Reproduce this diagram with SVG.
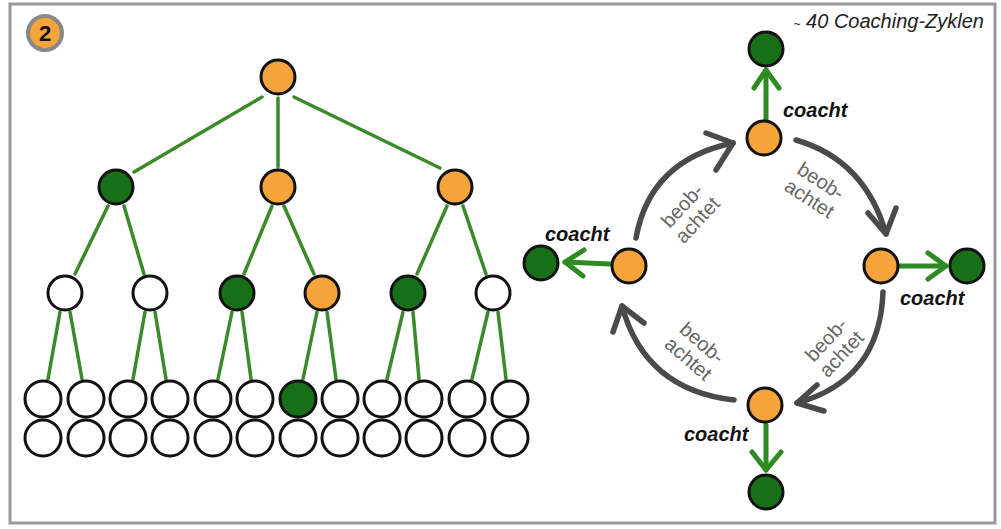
<svg xmlns="http://www.w3.org/2000/svg" width="1001" height="529" viewBox="0 0 1001 529">
<defs>
<style>
.o{fill:#F5A33B;stroke:#111;stroke-width:3}
.g{fill:#176F17;stroke:#111;stroke-width:3}
.w{fill:#fff;stroke:#111;stroke-width:3}
.tl{stroke:#3A8A2A;stroke-width:3.5;stroke-linecap:round;fill:none}
.ga{stroke:#4A4A4A;stroke-width:5.5;fill:none;stroke-linecap:round;stroke-linejoin:round}
.gr{stroke:#2E8A22;stroke-width:5;fill:none;stroke-linecap:round;stroke-linejoin:round}
.c{font-family:"Liberation Sans",Arial,sans-serif;font-size:20px;font-weight:bold;font-style:italic;fill:#111}
.b{font-family:"Liberation Sans",Arial,sans-serif;font-size:20px;fill:#666;text-anchor:middle}
</style>
</defs>
<rect x="0" y="0" width="1001" height="529" fill="#fff"/>
<rect x="10" y="4" width="985" height="519" fill="#fff" stroke="#999" stroke-width="3"/>
<g id="badge">
<circle cx="45" cy="33" r="17" fill="#F5A33B" stroke="#888" stroke-width="4"/>
<text x="45" y="41" font-family="Liberation Sans,Arial,sans-serif" font-size="22" font-weight="bold" text-anchor="middle" fill="#111">2</text>
</g>
<g id="connectors">
<line class="tl" x1="262" y1="97" x2="134" y2="172"/>
<line class="tl" x1="278" y1="98" x2="278" y2="167"/>
<line class="tl" x1="294" y1="97" x2="440" y2="168"/>
<line class="tl" x1="108" y1="206" x2="75" y2="274"/>
<line class="tl" x1="124" y1="206" x2="144" y2="274"/>
<line class="tl" x1="272" y1="206" x2="244" y2="274"/>
<line class="tl" x1="284" y1="206" x2="314" y2="274"/>
<line class="tl" x1="447" y1="206" x2="417" y2="274"/>
<line class="tl" x1="463" y1="206" x2="486" y2="274"/>
<line class="tl" x1="60" y1="312" x2="48" y2="379"/>
<line class="tl" x1="70" y1="312" x2="82" y2="379"/>
<line class="tl" x1="145" y1="312" x2="133" y2="379"/>
<line class="tl" x1="155" y1="312" x2="166" y2="379"/>
<line class="tl" x1="232" y1="312" x2="218" y2="379"/>
<line class="tl" x1="242" y1="312" x2="251" y2="379"/>
<line class="tl" x1="317" y1="312" x2="303" y2="379"/>
<line class="tl" x1="327" y1="312" x2="336" y2="379"/>
<line class="tl" x1="403" y1="312" x2="387" y2="379"/>
<line class="tl" x1="413" y1="312" x2="419" y2="379"/>
<line class="tl" x1="488" y1="312" x2="472" y2="379"/>
<line class="tl" x1="498" y1="312" x2="506" y2="379"/>
<path class="ga" d="M636,238 Q650,160 733,143"/>
<path class="ga" d="M706,133 L733,143 L716,170"/>
<path class="ga" d="M796,140 Q865,160 886,234"/>
<path class="ga" d="M868,213 L886,234 L896,208"/>
<path class="ga" d="M883,292 Q880,380 797,403"/>
<path class="ga" d="M817,385 L797,403 L824,411"/>
<path class="ga" d="M734,400 Q645,390 622,306"/>
<path class="ga" d="M613,332 L622,306 L644,323"/>
<path class="gr" d="M766,120 L766,70"/>
<path class="gr" d="M754,88 L766,70 L779,88"/>
<path class="gr" d="M610,264 L565,262"/>
<path class="gr" d="M584,250 L565,262 L583,276"/>
<path class="gr" d="M900,266 L946,266"/>
<path class="gr" d="M928,253 L946,266 L928,279"/>
<path class="gr" d="M766,425 L766,470"/>
<path class="gr" d="M752,452 L766,470 L781,452"/>
</g>
<g id="tree-root"><circle class="o" cx="278" cy="77" r="17"/></g>
<g id="tree-l2a"><circle class="g" cx="116" cy="187" r="17"/></g>
<g id="tree-l2b"><circle class="o" cx="278" cy="187" r="17"/></g>
<g id="tree-l2c"><circle class="o" cx="455" cy="187" r="17"/></g>
<g id="tree-l3a"><circle class="w" cx="65" cy="293" r="17"/></g>
<g id="tree-l3b"><circle class="w" cx="150" cy="293" r="17"/></g>
<g id="tree-l3c"><circle class="g" cx="237" cy="293" r="17"/></g>
<g id="tree-l3d"><circle class="o" cx="322" cy="293" r="17"/></g>
<g id="tree-l3e"><circle class="g" cx="408" cy="293" r="17"/></g>
<g id="tree-l3f"><circle class="w" cx="493" cy="293" r="17"/></g>
<g id="tree-l4">
<circle class="w" cx="43" cy="399" r="18"/><circle class="w" cx="86" cy="399" r="18"/>
<circle class="w" cx="128" cy="399" r="18"/><circle class="w" cx="170" cy="399" r="18"/>
<circle class="w" cx="213" cy="399" r="18"/><circle class="w" cx="255" cy="399" r="18"/>
<circle class="g" cx="298" cy="399" r="18"/><circle class="w" cx="340" cy="399" r="18"/>
<circle class="w" cx="382" cy="399" r="18"/><circle class="w" cx="424" cy="399" r="18"/>
<circle class="w" cx="467" cy="399" r="18"/><circle class="w" cx="510" cy="399" r="18"/>
</g>
<g id="tree-l5">
<circle class="w" cx="43" cy="438" r="18"/><circle class="w" cx="86" cy="438" r="18"/>
<circle class="w" cx="128" cy="438" r="18"/><circle class="w" cx="170" cy="438" r="18"/>
<circle class="w" cx="213" cy="438" r="18"/><circle class="w" cx="255" cy="438" r="18"/>
<circle class="w" cx="298" cy="438" r="18"/><circle class="w" cx="340" cy="438" r="18"/>
<circle class="w" cx="382" cy="438" r="18"/><circle class="w" cx="424" cy="438" r="18"/>
<circle class="w" cx="467" cy="438" r="18"/><circle class="w" cx="510" cy="438" r="18"/>
</g>
<g id="cycle-top"><circle class="o" cx="764" cy="138" r="17"/><circle class="g" cx="766" cy="49" r="17"/><text class="c" x="783" y="117">coacht</text></g>
<g id="cycle-left"><circle class="o" cx="629" cy="266" r="17"/><circle class="g" cx="541" cy="263" r="17"/><text class="c" x="545" y="241">coacht</text></g>
<g id="cycle-right"><circle class="o" cx="881" cy="266" r="17"/><circle class="g" cx="967" cy="266" r="17"/><text class="c" x="900" y="305">coacht</text></g>
<g id="cycle-bottom"><circle class="o" cx="765" cy="405" r="17"/><circle class="g" cx="766" cy="492" r="17"/><text class="c" x="684" y="441">coacht</text></g>
<g id="labels">
<text class="b" transform="translate(690,213) rotate(-47)"><tspan x="0" y="-4">beob-</tspan><tspan x="0" y="17">achtet</tspan></text>
<text class="b" transform="translate(815,190) rotate(33)"><tspan x="0" y="-4">beob-</tspan><tspan x="0" y="17">achtet</tspan></text>
<text class="b" transform="translate(834,347) rotate(-47)"><tspan x="0" y="-4">beob-</tspan><tspan x="0" y="17">achtet</tspan></text>
<text class="b" transform="translate(695,351) rotate(41)"><tspan x="0" y="-4">beob-</tspan><tspan x="0" y="17">achtet</tspan></text>
<text x="984" y="28" font-family="Liberation Sans,Arial,sans-serif" font-size="20" font-style="italic" fill="#222" text-anchor="end"><tspan font-size="12">~</tspan> 40 Coaching-Zyklen</text>
</g>
</svg>
